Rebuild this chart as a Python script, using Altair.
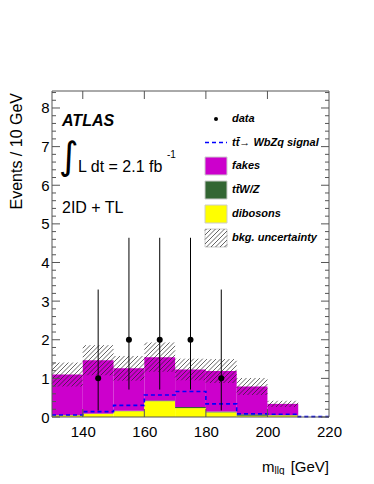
import altair as alt
import pandas as pd
import numpy as np

# ---------------- data ----------------
edges = [130, 140, 150, 160, 170, 180, 190, 200, 210, 220]
fakes = [1.05, 1.38, 1.10, 1.12, 0.97, 1.05, 0.72, 0.29, 0.0]
ttwz = [0.01, 0.01, 0.01, 0.02, 0.03, 0.02, 0.04, 0.01, 0.0]
dibosons = [0.04, 0.08, 0.15, 0.41, 0.23, 0.12, 0.03, 0.04, 0.0]
bkg_unc = [0.31, 0.39, 0.32, 0.38, 0.28, 0.31, 0.22, 0.08, 0.0]
signal = [0.05, 0.14, 0.30, 0.57, 0.66, 0.34, 0.08, 0.07, 0.01]

data_x = [145, 155, 165, 175, 185]
data_n = [1, 2, 2, 2, 1]
data_lo = [0.17, 0.71, 0.71, 0.71, 0.17]
data_hi = [3.30, 4.64, 4.64, 4.64, 3.30]

y_labels = [0, 1, 2, 3, 4, 5, 6, 7, 8]
x_labels = [140, 160, 180, 200, 220]

# ---------------- layout ----------------
W, H = 277, 326
XMIN, XMAX = 130, 220
YMAX = 8.44
FONT = "Liberation Sans"

xs = alt.Scale(domain=[XMIN, XMAX], nice=False, zero=False)
ys = alt.Scale(domain=[0, YMAX], nice=False, zero=False)
x_axis = alt.Axis(values=x_labels, ticks=False, domain=False, grid=False, labelFont=FONT,
                  labelFontSize=15, labelColor="black", labelPadding=7, labelFlush=False,
                  labelOverlap=False, title=None)
y_axis = alt.Axis(values=y_labels, ticks=False, domain=False, grid=False, labelFont=FONT,
                  labelFontSize=15, labelColor="black", labelPadding=3, labelFlush=False,
                  labelOverlap=False, title=None)


def x2px(x):
    return (x - XMIN) * W / (XMAX - XMIN)


def y2py(y):
    return (YMAX - y) * H / YMAX


def px2x(px):
    return XMIN + px * (XMAX - XMIN) / W


def py2y(py):
    return YMAX - py * YMAX / H


def hatch(px0, px1, pyt, pyb, s=4.5):
    segs = []
    cmin = px0 + pyt
    cmax = px1 + pyb
    k0 = int(np.floor(cmin / s))
    k1 = int(np.ceil(cmax / s))
    for k in range(k0, k1 + 1):
        c = k * s
        a = max(px0, c - pyb)
        b = min(px1, c - pyt)
        if b - a > 0.3:
            segs.append((a, c - a, b, c - b))
    return segs


# stacked histogram
rows = []
for i in range(len(fakes)):
    lo, hi = edges[i], edges[i + 1]
    b0 = 0.0
    for name, arr in (("dibosons", dibosons), ("ttwz", ttwz), ("fakes", fakes)):
        v = arr[i]
        if v > 0:
            rows.append({"x": lo, "x2": hi, "y": b0, "y2": b0 + v, "comp": name})
        b0 += v
stack_df = pd.DataFrame(rows)

# uncertainty hatch
hrows = []
for i in range(len(fakes)):
    tot = fakes[i] + ttwz[i] + dibosons[i]
    u = bkg_unc[i]
    if u <= 0:
        continue
    for (ax, ay, bx, by) in hatch(x2px(edges[i]), x2px(edges[i + 1]),
                                  y2py(tot + u), y2py(max(tot - u, 0))):
        hrows.append({"x": px2x(ax), "y": py2y(ay), "x2": px2x(bx), "y2": py2y(by)})
hatch_df = pd.DataFrame(hrows)

sig_df = pd.DataFrame({"x": edges, "y": signal + [signal[-1]]})
pts_df = pd.DataFrame({"x": data_x, "n": data_n, "lo": data_lo, "hi": data_hi})

X = lambda f: alt.X(f, type="quantitative", scale=xs, axis=x_axis)
Y = lambda f: alt.Y(f, type="quantitative", scale=ys, axis=y_axis)

stack = alt.Chart(stack_df).mark_rect().encode(
    x=X("x"), x2="x2:Q", y=Y("y"), y2="y2:Q",
    color=alt.Color("comp:N", scale=alt.Scale(domain=["fakes", "ttwz", "dibosons"],
                                              range=["#cc00cc", "#336633", "#ffff00"]), legend=None),
)

hatch_layer = alt.Chart(hatch_df).mark_rule(color="#222222", strokeWidth=0.7).encode(
    x=X("x"), y=Y("y"), x2="x2:Q", y2="y2:Q")

sig_layer = alt.Chart(sig_df).mark_line(interpolate="step-after", color="#0000ff",
                                        strokeDash=[4, 3], strokeWidth=1.6).encode(
    x=X("x"), y=Y("y"))

err_layer = alt.Chart(pts_df).mark_rule(color="black", strokeWidth=1).encode(
    x=X("x"), y=Y("lo"), y2="hi:Q")
pt_layer = alt.Chart(pts_df).mark_circle(color="black", size=36, opacity=1).encode(
    x=X("x"), y=Y("n"))

# inward ticks
minor = [round(v * 0.2, 1) for v in range(0, 43) if v % 5 != 0]
yt_major = pd.DataFrame({"v": y_labels})
yt_minor = pd.DataFrame({"v": minor})
xt_major = pd.DataFrame({"v": [140, 160, 180, 200]})
TC = "#555555"
ticks = [
    alt.Chart(yt_major).mark_rule(color=TC).encode(y=Y("v"), x=alt.value(0), x2=alt.value(8)),
    alt.Chart(yt_major).mark_rule(color=TC).encode(y=Y("v"), x=alt.value(W - 8), x2=alt.value(W)),
    alt.Chart(yt_minor).mark_rule(color=TC).encode(y=Y("v"), x=alt.value(0), x2=alt.value(4)),
    alt.Chart(yt_minor).mark_rule(color=TC).encode(y=Y("v"), x=alt.value(W - 4), x2=alt.value(W)),
    alt.Chart(xt_major).mark_rule(color=TC).encode(x=X("v"), y=alt.value(0), y2=alt.value(8)),
    alt.Chart(xt_major).mark_rule(color=TC).encode(x=X("v"), y=alt.value(H - 8), y2=alt.value(H)),
]

one = pd.DataFrame({"a": [0]})
frame = alt.Chart(one).mark_rect(fillOpacity=0, stroke=TC, strokeWidth=1).encode(
    x=alt.value(0), x2=alt.value(W), y=alt.value(0), y2=alt.value(H))


def txt(s, x, y, size, **kw):
    font = kw.pop("font", FONT)
    align = kw.pop("align", "left")
    return alt.Chart(one).mark_text(text=s, font=font, fontSize=size, align=align,
                                    color="black", **kw).encode(x=alt.value(x), y=alt.value(y))


texts = [
    txt("ATLAS", 10, 30, 16, fontWeight="bold", fontStyle="italic"),
    txt("\u222b", 7, 67, 38, baseline="middle", font="DejaVu Sans"),
    txt("L dt = 2.1 fb", 26, 76, 16),
    txt("-1", 115, 64, 10),
    txt("2ID + TL", 10, 117, 16),
    alt.Chart(one).mark_text(text="Events / 10 GeV", font=FONT, fontSize=16, angle=270,
                             align="right", baseline="top").encode(x=alt.value(-43), y=alt.value(2)),
    txt("m", 210, 376, 15),
    txt("llq", 222.5, 380, 10),
    txt("[GeV]", 277, 376, 15, align="right"),
]

# legend
LX0, LX1, LT = 153, 175, 180
rows_y = [28, 51.5, 75, 99, 123, 147]
labels = ["data", "tt\u0304\u2192 WbZq signal", "fakes", "tt\u0304W/Z", "dibosons", "bkg. uncertainty"]
leg = []
leg.append(alt.Chart(one).mark_circle(color="black", size=16, opacity=1).encode(
    x=alt.value(164), y=alt.value(rows_y[0])))
leg.append(alt.Chart(one).mark_rule(color="#0000ff", strokeDash=[4, 3], strokeWidth=1.6).encode(
    x=alt.value(LX0), x2=alt.value(LX1), y=alt.value(rows_y[1])))
for yy, col in zip(rows_y[2:5], ["#cc00cc", "#336633", "#ffff00"]):
    leg.append(alt.Chart(one).mark_rect(color=col, stroke="#cccccc", strokeWidth=1).encode(
        x=alt.value(LX0), x2=alt.value(LX1), y=alt.value(yy - 9), y2=alt.value(yy + 9)))
leg.append(alt.Chart(one).mark_rect(fillOpacity=0, stroke="#cccccc", strokeWidth=1).encode(
    x=alt.value(LX0), x2=alt.value(LX1), y=alt.value(rows_y[5] - 9), y2=alt.value(rows_y[5] + 9)))
lh = hatch(LX0, LX1, rows_y[5] - 9, rows_y[5] + 9)
lh_df = pd.DataFrame([{"x": px2x(a), "y": py2y(b), "x2": px2x(c), "y2": py2y(d)} for a, b, c, d in lh])
leg.append(alt.Chart(lh_df).mark_rule(color="#222222", strokeWidth=0.7).encode(
    x=X("x"), y=Y("y"), x2="x2:Q", y2="y2:Q"))
for t, yy in zip(labels, rows_y):
    leg.append(txt(t, LT, yy, 11, fontWeight="bold", fontStyle="italic", baseline="middle"))

chart = alt.layer(stack, hatch_layer, sig_layer, err_layer, pt_layer, *ticks, frame, *texts, *leg).properties(
    width=W, height=H,
    padding={"left": 44, "top": 83, "right": 30, "bottom": 58},
    autosize=alt.AutoSizeParams(type="none"),
).configure_view(stroke=None)

chart.save("out.html", embed_options={"renderer": "svg", "actions": False})
